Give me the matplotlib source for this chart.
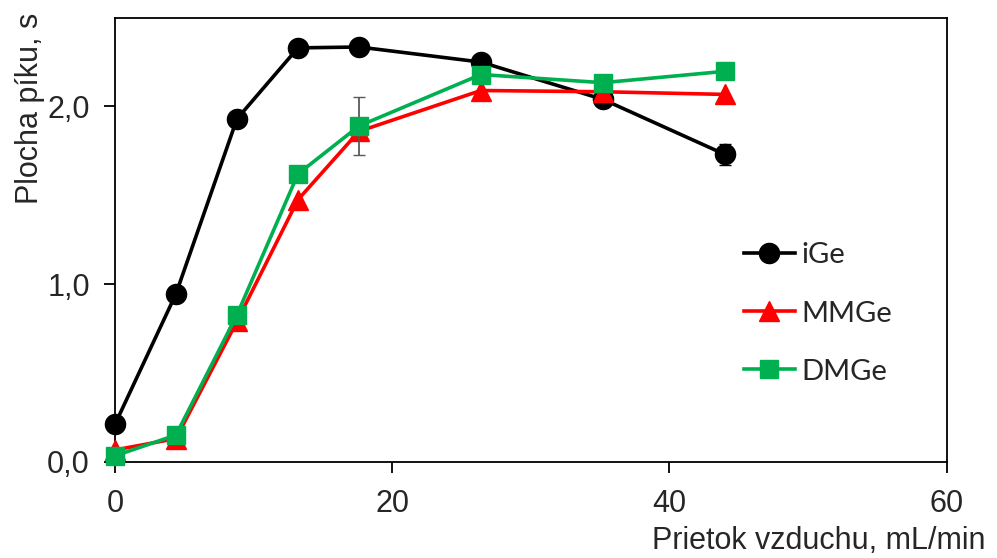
import matplotlib
matplotlib.use("Agg")
import matplotlib.pyplot as plt
from matplotlib.lines import Line2D

flow = [0.0, 4.4, 8.8, 13.2, 17.6, 26.4, 35.2, 44.0]
iGe = [0.21, 0.945, 1.93, 2.33, 2.335, 2.25, 2.04, 1.73]
MMGe = [0.066, 0.13, 0.79, 1.475, 1.86, 2.09, 2.083, 2.068]
DMGe = [0.033, 0.15, 0.827, 1.62, 1.89, 2.18, 2.134, 2.198]
iGe_err = [0, 0, 0, 0, 0, 0, 0, 0.06]
DMGe_err = [0, 0, 0, 0, 0.163, 0, 0, 0]

xticks = [0, 20, 40, 60]
yticks = [0.0, 1.0, 2.0]
ytick_labels = ["0,0", "1,0", "2,0"]

plt.rcParams['font.family'] = ['Liberation Sans', 'DejaVu Sans']
txt = '#262626'

fig = plt.figure(figsize=(9.97, 5.58), dpi=100)
ax = fig.add_axes([0.1153, 0.1726, 0.8343, 0.7957])

lw = 2.6
ax.errorbar(flow, iGe, yerr=iGe_err, color='black', marker='o', ms=14.5, lw=lw,
            ecolor='black', elinewidth=1.2, capsize=4, clip_on=False, zorder=3)
ax.plot(flow, MMGe, color='#FF0000', marker='^', ms=14.5, lw=lw,
        clip_on=False, zorder=4)
ax.errorbar(flow, DMGe, yerr=DMGe_err, color='#00B050', marker='s', ms=13.2, lw=lw,
            ecolor='#595959', elinewidth=1.3, capsize=4, clip_on=False, zorder=5)

ax.set_xlim(0, 60)
ax.set_ylim(0, 2.5)
ax.set_xticks(xticks)
ax.set_xticklabels([str(t) for t in xticks])
ax.set_yticks(yticks)
ax.set_yticklabels(ytick_labels)
ax.tick_params(axis='both', direction='out', length=8, width=1.3, labelsize=22, pad=10,
               colors='black', labelcolor=txt)
ax.tick_params(axis='x', pad=12)
for s in ax.spines.values():
    s.set_linewidth(1.3)

fig.text(0.988, 0.03, "Prietok vzduchu, mL/min", ha='right', va='center', fontsize=22,
         color=txt)
fig.text(0.03, 0.805, "Plocha píku, s", rotation=90, ha='center', va='center', fontsize=22,
         color=txt)

handles = [
    Line2D([], [], color='black', marker='o', ms=14.5, lw=lw),
    Line2D([], [], color='#FF0000', marker='^', ms=14.5, lw=lw),
    Line2D([], [], color='#00B050', marker='s', ms=13.2, lw=lw),
]
labels = ['iGe', 'MMGe', 'DMGe']
leg = ax.legend(handles, labels, loc='upper left', bbox_to_anchor=(0.742, 0.52), frameon=False,
                prop={'family': 'Lato', 'size': 21}, labelspacing=1.1, handlelength=1.76,
                handletextpad=0.2, borderaxespad=0)
for t in leg.get_texts():
    t.set_color(txt)

fig.savefig("out.png", dpi=100)
